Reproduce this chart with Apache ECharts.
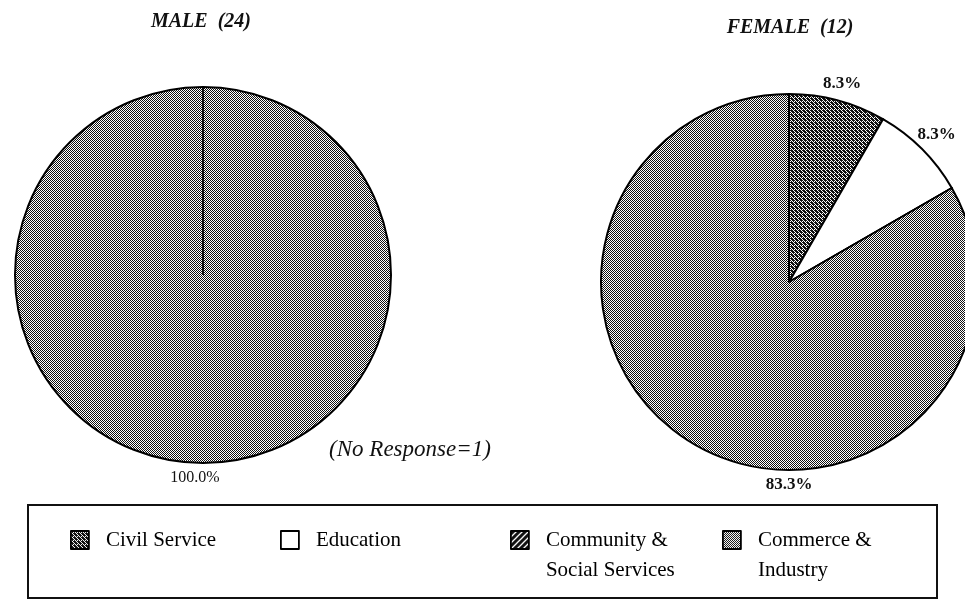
<!DOCTYPE html>
<html>
<head>
<meta charset="utf-8">
<title>Occupation by sex</title>
<script src="https://cdn.jsdelivr.net/npm/echarts@6/dist/echarts.min.js"></script>
<style>
	html, body {
		margin: 0;
		padding: 0;
		background: #fff;
	}

	#main {
		width: 965px;
		height: 603px;
	}
</style>
</head>

<body>
	<div id="main"></div>
</body>
<script>
	var categories = ['Civil Service', 'Education', 'Community & Social Services', 'Commerce & Industry'];
	var maleValues = [0, 0, 0, 23];
	var femaleValues = [1, 1, 0, 10];
	var pieTitles = ['MALE  (24)', 'FEMALE  (12)'];
	var noteText = '(No Response=1)';

	var serif = '"Liberation Serif", "DejaVu Serif", serif';
	var R = 188;
	var maleCenter = [203, 275];
	var femaleCenter = [789, 282];
	var legendLeft = [70, 280, 510, 722];
	var legendMid = 540;

	// printed halftone look, built as small canvas tiles
	function tile(kind) {
		var c = document.createElement('canvas');
		var ctx = c.getContext('2d');
		if (kind === 'hatch') {
			c.width = c.height = 6;
			ctx.fillStyle = '#111';
			ctx.fillRect(0, 0, 6, 6);
			ctx.strokeStyle = '#fff';
			ctx.lineWidth = 1.3;
			ctx.beginPath();
			ctx.moveTo(-1, 7); ctx.lineTo(7, -1);
			ctx.moveTo(-1, 1); ctx.lineTo(1, -1);
			ctx.moveTo(5, 7); ctx.lineTo(7, 5);
			ctx.stroke();
		} else {
			c.width = c.height = 4;
			ctx.fillStyle = '#fff';
			ctx.fillRect(0, 0, 4, 4);
			ctx.fillStyle = '#111';
			for (var y = 0; y < 4; y++) {
				for (var x = 0; x < 4; x++) {
					if ((x + y) % 2 === 0) ctx.fillRect(x, y, 1, 1);
				}
			}
			if (kind === 'dark') {
				ctx.fillRect(1, 0, 1, 1);
				ctx.fillRect(3, 2, 1, 1);
				ctx.fillRect(0, 3, 1, 1);
			}
		}
		return { image: c, repeat: 'repeat' };
	}
	var fills = [tile('dark'), '#ffffff', tile('hatch'), tile('checker')];

	function pieSeries(name, values, center, fontSize, weight) {
		var total = values.reduce(function (a, b) { return a + b; }, 0);
		return {
			type: 'pie',
			name: name,
			center: center,
			radius: R,
			startAngle: 90,
			clockwise: true,
			silent: true,
			avoidLabelOverlap: false,
			data: values.map(function (v, i) {
				return { name: categories[i], value: v, itemStyle: { color: fills[i] } };
			}),
			itemStyle: { borderColor: '#000', borderWidth: 2 },
			label: {
				show: true,
				position: 'outside',
				formatter: function (p) {
					return p.value ? (p.value / total * 100).toFixed(1) + '%' : '';
				},
				fontFamily: serif,
				fontSize: fontSize,
				fontWeight: weight,
				color: '#111'
			},
			labelLine: { show: false },
			labelLayout: function (p) {
				var before = 0;
				for (var j = 0; j < p.dataIndex; j++) before += values[j];
				var v = values[p.dataIndex];
				// the big slice gets its label at the bottom, like the print
				var ang = v / total > 0.5 ? Math.PI : 2 * Math.PI * (before + v / 2) / total;
				var d = R + 15 + 8 * Math.abs(Math.sin(ang));
				return {
					x: center[0] + d * Math.sin(ang) - (total > 20 ? 8 : 0),
					y: center[1] - d * Math.cos(ang),
					align: 'center',
					verticalAlign: 'middle'
				};
			}
		};
	}

	var chart = echarts.init(document.getElementById('main'));
	var option = {
		animation: false,
		backgroundColor: '#fff',
		title: [
			{
				text: pieTitles[0], left: 201, top: 12, padding: 0, textAlign: 'center',
				textStyle: { fontFamily: serif, fontSize: 20, fontWeight: 'bold', fontStyle: 'italic', color: '#111' }
			},
			{
				text: pieTitles[1], left: 790, top: 18, padding: 0, textAlign: 'center',
				textStyle: { fontFamily: serif, fontSize: 20, fontWeight: 'bold', fontStyle: 'italic', color: '#111' }
			},
			{
				text: noteText, left: 410, top: 438, padding: 0, textAlign: 'center',
				textStyle: { fontFamily: serif, fontSize: 23, fontWeight: 'normal', fontStyle: 'italic', color: '#111' }
			}
		],
		legend: categories.map(function (name, i) {
			var twoLine = name.indexOf(' & ') > -1;
			return {
				data: [name],
				left: legendLeft[i],
				top: twoLine ? legendMid - 45 : legendMid - 15,
				padding: 0,
				icon: 'rect',
				itemWidth: 18,
				itemHeight: 18,
				selectedMode: false,
				// empty first line keeps the icon level with the first text line
				formatter: function (n) {
					return n.indexOf(' & ') > -1 ? '\n' + n.replace(' & ', ' &\n') : n;
				},
				itemStyle: { borderColor: '#000', borderWidth: 1.8 },
				textStyle: {
					fontFamily: serif,
					fontSize: 21,
					lineHeight: 30,
					color: '#000',
					padding: [0, 0, 0, 12]
				}
			};
		}),
		graphic: [
			{
				type: 'rect',
				silent: true,
				z: -1,
				shape: { x: 28, y: 505, width: 909, height: 93 },
				style: { fill: 'none', stroke: '#111', lineWidth: 2 }
			},
			{
				// edge of the 100% slice, left visible in the print
				type: 'line',
				silent: true,
				z: 10,
				shape: { x1: maleCenter[0], y1: maleCenter[1], x2: maleCenter[0], y2: maleCenter[1] - R },
				style: { stroke: '#000', lineWidth: 1.8 }
			}
		],
		series: [
			pieSeries('Male', maleValues, maleCenter, 16, 'normal'),
			pieSeries('Female', femaleValues, femaleCenter, 17, 'bold')
		]
	};
	chart.setOption(option);
</script>

</html>
